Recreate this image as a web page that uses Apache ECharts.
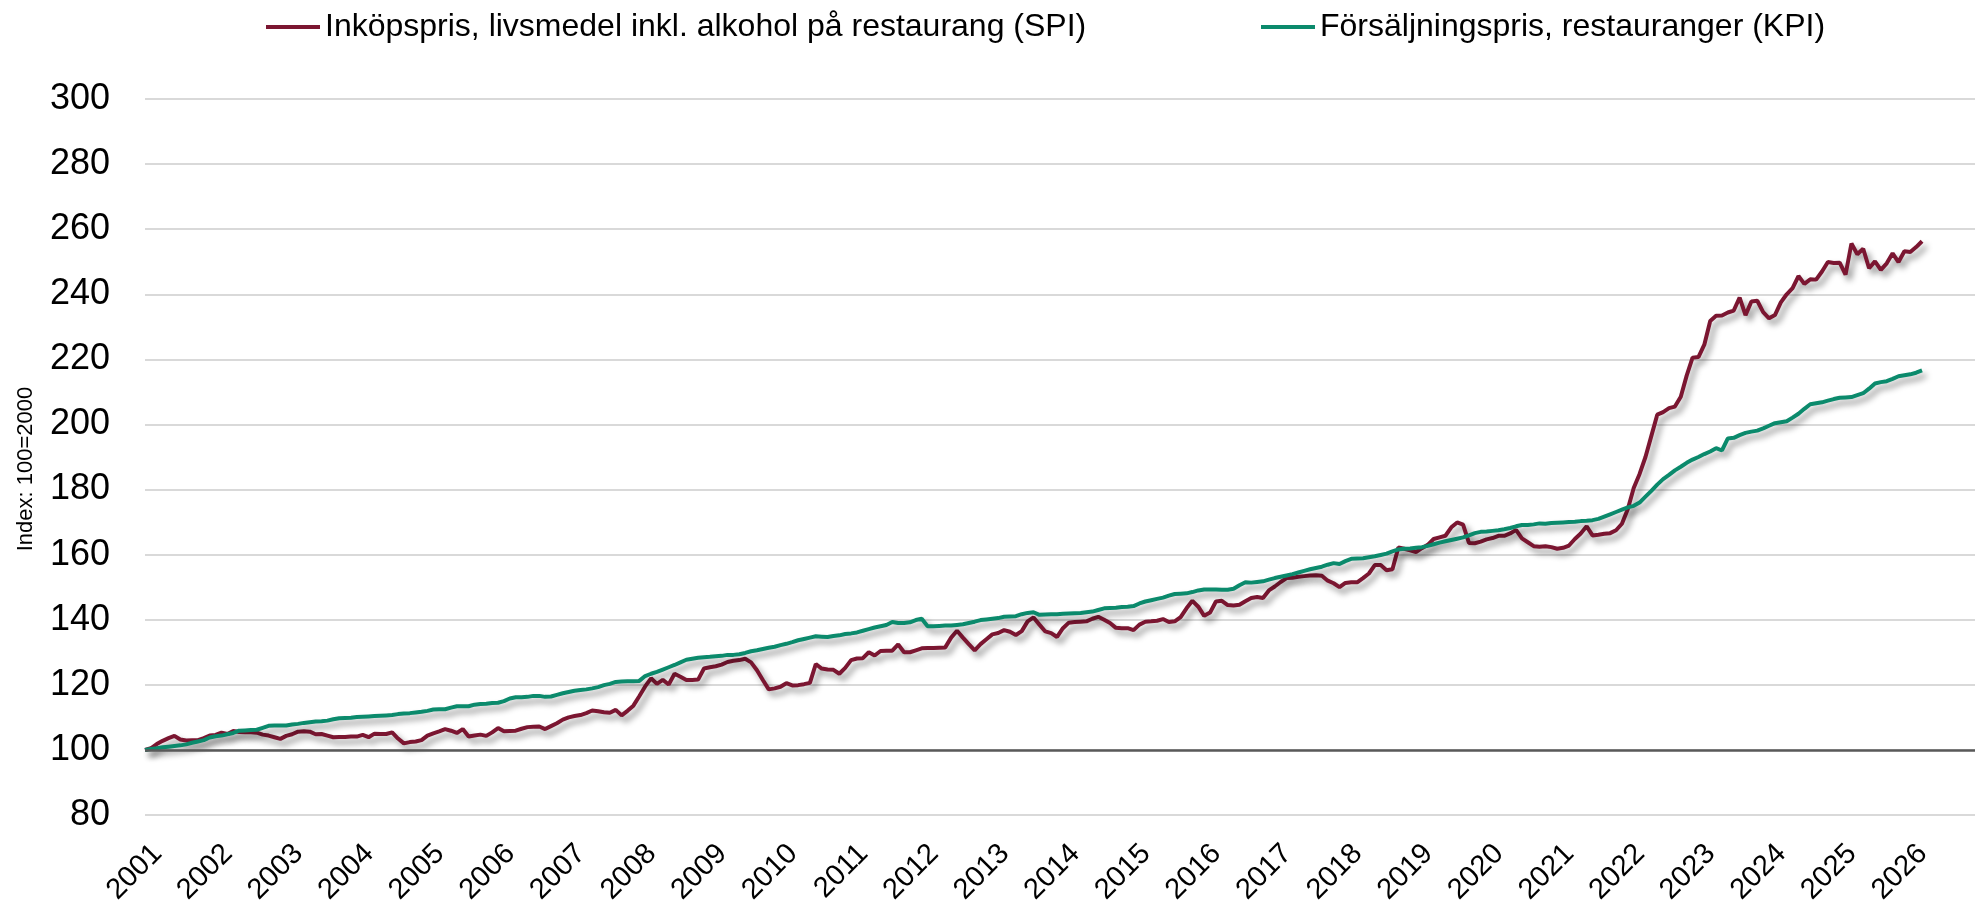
<!DOCTYPE html>
<html>
<head>
<meta charset="utf-8">
<title>Inköpspris och försäljningspris, restauranger</title>
<script src="https://cdn.jsdelivr.net/npm/echarts@6/dist/echarts.min.js"></script>
<style>
  html, body { margin: 0; padding: 0; background: #fff; }
  #chart { width: 1975px; height: 904px; }
</style>
</head>
<body>
<div id="chart"></div>
<script>
// Axis years (monthly categories 2001-01 .. 2026-12)
var years = [2001, 2002, 2003, 2004, 2005, 2006, 2007, 2008, 2009, 2010, 2011, 2012, 2013,
             2014, 2015, 2016, 2017, 2018, 2019, 2020, 2021, 2022, 2023, 2024, 2025, 2026];

var seriesNames = [
    'Inköpspris, livsmedel inkl. alkohol på restaurang (SPI)',
    'Försäljningspris, restauranger (KPI)'
];

// Index 100=2000, monthly, Jan 2001 - Mar 2026 (one row per year)
var spi = [
    100.0, 100.5, 101.8, 102.8, 103.6, 104.3, 103.2, 102.9, 103.0, 103.0, 103.6, 104.4,
    104.6, 105.3, 104.9, 105.8, 105.5, 105.4, 105.4, 105.3, 104.7, 104.4, 103.9, 103.4,
    104.3, 104.8, 105.6, 105.7, 105.6, 104.8, 104.9, 104.4, 103.9, 104.0, 104.0, 104.1,
    104.1, 104.6, 103.9, 105.0, 104.9, 104.9, 105.4, 103.5, 102.0, 102.4, 102.6, 103.0,
    104.4, 105.1, 105.7, 106.4, 105.9, 105.2, 106.4, 104.1, 104.4, 104.7, 104.3, 105.4,
    106.7, 105.7, 105.8, 105.9, 106.5, 107.0, 107.1, 107.2, 106.4, 107.3, 108.2, 109.3,
    110.0, 110.4, 110.7, 111.3, 112.1, 111.9, 111.6, 111.4, 112.3, 110.6, 112.0, 113.6,
    116.5, 119.5, 122.0, 120.3, 121.5, 120.1, 123.4, 122.5, 121.5, 121.5, 121.6, 125.0,
    125.4, 125.7, 126.2, 127.0, 127.4, 127.6, 128.0, 126.9, 124.5, 121.5, 118.6, 118.9,
    119.4, 120.5, 119.8, 119.9, 120.2, 120.6, 126.4, 125.0, 124.7, 124.6, 123.4, 125.2,
    127.6, 128.1, 128.2, 130.0, 129.0, 130.4, 130.5, 130.5, 132.4, 130.0, 130.0, 130.6,
    131.2, 131.3, 131.3, 131.4, 131.5, 134.5, 136.6, 134.5, 132.5, 130.6, 132.5, 134.0,
    135.5, 135.9, 136.8, 136.3, 135.3, 136.5, 139.5, 140.7, 138.5, 136.4, 135.9, 134.7,
    137.4, 139.1, 139.3, 139.4, 139.5, 140.3, 140.9, 140.0, 139.0, 137.5, 137.4, 137.4,
    136.8, 138.5, 139.4, 139.5, 139.7, 140.2, 139.3, 139.5, 140.8, 143.5, 145.8, 144.0,
    141.2, 142.2, 145.6, 145.8, 144.5, 144.4, 144.6, 145.7, 146.7, 147.0, 146.7, 149.0,
    150.2, 151.6, 152.8, 152.9, 153.2, 153.4, 153.6, 153.7, 153.5, 152.0, 151.2, 150.0,
    151.3, 151.5, 151.5, 152.8, 154.2, 156.8, 156.8, 155.2, 155.5, 162.2, 161.8, 161.3,
    160.8, 162.0, 163.0, 164.8, 165.3, 165.8, 168.4, 169.9, 169.2, 163.6, 163.5, 164.0,
    164.7, 165.1, 165.8, 165.8, 166.5, 167.6, 165.0, 163.8, 162.6, 162.4, 162.6, 162.3,
    161.8, 162.1, 162.8, 164.8, 166.5, 168.7, 165.9, 166.1, 166.4, 166.6, 167.5, 169.5,
    174.0, 180.5, 184.8, 190.0, 196.5, 203.0, 203.8, 205.0, 205.5, 208.5, 215.0, 220.5,
    220.7, 224.5, 231.8, 233.4, 233.5, 234.4, 235.0, 239.0, 233.6, 237.8, 238.0, 234.5,
    232.6, 233.6, 237.5, 240.0, 241.9, 245.6, 243.2, 244.6, 244.5, 247.0, 249.9, 249.6,
    249.7, 246.0, 255.6, 252.3, 254.0, 248.0, 250.1, 247.5, 249.5, 252.6, 249.9, 253.2,
    253.0, 254.5, 256.3
];

var kpi = [
    100.0, 100.3, 100.5, 100.8, 101.0, 101.2, 101.4, 101.7, 102.2, 102.6, 103.0, 103.8,
    104.2, 104.4, 104.8, 105.2, 105.9, 106.0, 106.1, 106.2, 106.8, 107.4, 107.5, 107.5,
    107.5, 107.8, 108.0, 108.3, 108.5, 108.7, 108.8, 109.0, 109.4, 109.7, 109.8, 109.9,
    110.1, 110.2, 110.3, 110.4, 110.5, 110.6, 110.7, 111.0, 111.2, 111.3, 111.5, 111.7,
    112.0, 112.4, 112.5, 112.5, 113.0, 113.4, 113.4, 113.4, 113.9, 114.1, 114.2, 114.4,
    114.5, 115.0, 115.8, 116.2, 116.2, 116.3, 116.6, 116.6, 116.3, 116.4, 116.9, 117.4,
    117.8, 118.2, 118.4, 118.6, 118.9, 119.3, 119.9, 120.3, 120.9, 121.0, 121.1, 121.1,
    121.2, 122.7, 123.4, 124.0, 124.7, 125.4, 126.1, 126.9, 127.7, 128.0, 128.3, 128.5,
    128.6, 128.8, 128.9, 129.2, 129.2, 129.4, 129.8, 130.3, 130.6, 131.0, 131.4, 131.7,
    132.2, 132.6, 133.1, 133.7, 134.1, 134.5, 134.9, 134.8, 134.7, 135.0, 135.2, 135.6,
    135.8, 136.1, 136.6, 137.1, 137.6, 138.0, 138.4, 139.3, 139.0, 139.0, 139.2, 139.9,
    140.3, 138.0, 138.0, 138.1, 138.2, 138.2, 138.4, 138.6, 139.0, 139.4, 139.9, 140.1,
    140.3, 140.5, 140.9, 141.0, 141.1, 141.7, 142.1, 142.3, 141.5, 141.6, 141.7, 141.7,
    141.8, 141.9, 142.0, 142.1, 142.3, 142.5, 143.0, 143.5, 143.6, 143.7, 143.9, 144.0,
    144.2, 145.0, 145.6, 146.0, 146.4, 146.8, 147.4, 147.9, 148.0, 148.1, 148.5, 149.0,
    149.3, 149.3, 149.3, 149.2, 149.2, 149.5, 150.6, 151.5, 151.4, 151.6, 151.8, 152.3,
    152.8, 153.2, 153.6, 154.0, 154.5, 155.0, 155.5, 155.9, 156.3, 156.9, 157.4, 157.1,
    158.0, 158.7, 158.8, 158.9, 159.2, 159.5, 159.9, 160.3, 161.0, 161.6, 161.8, 161.9,
    162.1, 162.3, 162.7, 163.2, 163.7, 164.1, 164.5, 164.9, 165.3, 165.9, 166.6, 167.0,
    167.1, 167.3, 167.5, 167.8, 168.2, 168.7, 169.1, 169.1, 169.3, 169.6, 169.5, 169.7,
    169.8, 169.9, 170.0, 170.1, 170.3, 170.4, 170.6, 171.0, 171.7, 172.4, 173.1, 173.8,
    174.5, 175.0, 176.0, 177.8, 179.6, 181.5, 183.2, 184.5, 185.9, 187.0, 188.2, 189.2,
    190.0, 190.9, 191.7, 192.7, 192.0, 195.7, 195.9, 196.7, 197.4, 197.8, 198.1, 198.8,
    199.6, 200.4, 200.7, 201.0, 202.1, 203.3, 204.8, 206.2, 206.5, 206.8, 207.3, 207.8,
    208.2, 208.3, 208.4, 209.0, 209.6, 211.0, 212.6, 213.0, 213.3, 214.0, 214.8, 215.1,
    215.4, 215.9, 216.6
];

var colors = ['#7b1631', '#0b8a6c'];
var font = "'Liberation Sans', Arial, sans-serif";

// monthly category labels
var months = [];
years.forEach(function(y) {
    for (var i = 1; i <= 12; i++) months.push(y + '-' + (i < 10 ? '0' + i : i));
});

function lineSeries(name, data, color) {
    return {
        name: name,
        type: 'line',
        data: data,
        symbol: 'none',
        z: 3,
        lineStyle: {
            color: color, width: 4,
            shadowColor: 'rgba(0,0,0,0.42)', shadowBlur: 6,
            shadowOffsetX: 4, shadowOffsetY: 5
        },
        itemStyle: { color: color }
    };
}

function legendFor(name, left) {
    return {
        data: [name], left: left, top: 6,
        icon: 'rect', itemWidth: 54, itemHeight: 4, itemGap: 0,
        textStyle: { fontSize: 32, color: '#000', fontFamily: font }
    };
}

var chart = echarts.init(document.getElementById('chart'));
chart.setOption({
    animation: false,
    textStyle: { fontFamily: font },
    legend: [legendFor(seriesNames[0], 261), legendFor(seriesNames[1], 1256)],
    grid: { left: 145, right: 0, top: 99, bottom: 89, containLabel: false, outerBoundsMode: 'none' },
    xAxis: {
        type: 'category',
        data: months,
        boundaryGap: false,
        axisLine: { show: false },
        axisTick: { show: false },
        splitLine: { show: false },
        axisLabel: {
            interval: 11,
            rotate: 45,
            margin: 26,
            align: 'right',
            verticalAlign: 'top',
            padding: [0, -3, 0, 0],
            fontSize: 29,
            color: '#000',
            fontFamily: font,
            formatter: function(v) { return v.slice(0, 4); }
        }
    },
    yAxis: {
        type: 'value',
        min: 80, max: 300, interval: 20,
        name: 'Index: 100=2000',
        nameLocation: 'middle',
        nameGap: 108,
        nameTextStyle: { fontSize: 22, color: '#000', fontFamily: font, padding: [0, 24, 0, 0] },
        axisLine: { show: false },
        axisTick: { show: false },
        axisLabel: { fontSize: 36, color: '#000', margin: 35, fontFamily: font },
        splitLine: { lineStyle: { color: '#d9d9d9', width: 2 } }
    },
    series: [
        {
            name: 'baseline',
            type: 'line',
            data: [],
            z: 2,
            markLine: {
                silent: true,
                symbol: 'none',
                label: { show: false },
                lineStyle: { color: '#595959', width: 2.5, type: 'solid' },
                data: [{ yAxis: 100 }]
            }
        },
        lineSeries(seriesNames[0], spi, colors[0]),
        lineSeries(seriesNames[1], kpi, colors[1])
    ]
});
</script>
</body>
</html>
